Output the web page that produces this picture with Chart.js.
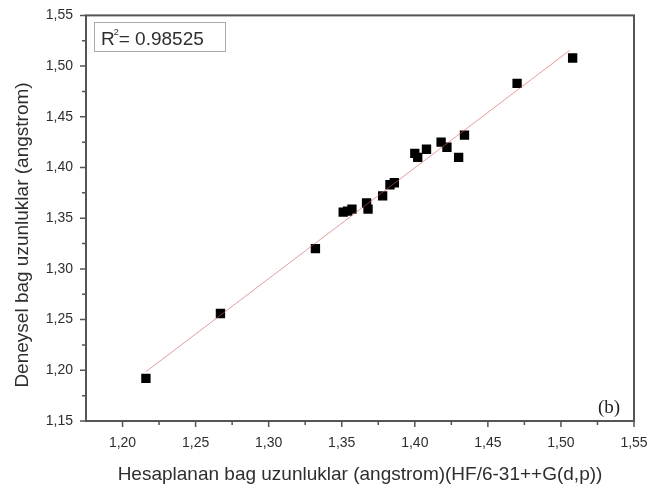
<!DOCTYPE html>
<html>
<head>
<meta charset="utf-8">
<script src="https://cdn.jsdelivr.net/npm/chart.js@4.4.1/dist/chart.umd.min.js"></script>
<style>
  html, body { margin: 0; padding: 0; background: #fff; }
  #wrap { width: 665px; height: 486px; }
</style>
</head>
<body>
<div id="wrap"><canvas id="canvas1"></canvas></div>
<script>
// hesaplanan (x) ve deneysel (y) bag uzunluklari
const calcLengths = [1.216, 1.267, 1.332, 1.351, 1.354, 1.357, 1.367, 1.368, 1.378, 1.383, 1.386,
  1.400, 1.402, 1.408, 1.418, 1.422, 1.430, 1.434, 1.470, 1.508];
const expLengths = [1.192, 1.256, 1.320, 1.356, 1.357, 1.359, 1.365, 1.359, 1.372, 1.383, 1.385,
  1.414, 1.410, 1.418, 1.425, 1.420, 1.410, 1.432, 1.483, 1.508];
// lineer fit cizgisinin uclari
const fitX = [1.216, 1.506];
const fitY = [1.1986, 1.5155];
const xTicks = [1.20, 1.25, 1.30, 1.35, 1.40, 1.45, 1.50, 1.55];
const yTicks = [1.15, 1.20, 1.25, 1.30, 1.35, 1.40, 1.45, 1.50, 1.55];
const rSquared = '0.98525';
const yTitle = 'Deneysel bag uzunluklar (angstrom)';

const FONT = '"Liberation Sans", Arial, sans-serif';
const AXIS_COLOR = '#555';
const TEXT_COLOR = '#2e2e2e';
const fmt = v => v.toFixed(2).replace('.', ',');

// kucuk tick'ler, ust/sag cerceve, y basligi, R2 kutusu ve (b) etiketi
const decorPlugin = {
  id: 'decor',
  afterDraw(chart) {
    const { ctx, chartArea: a, scales } = chart;
    ctx.save();
    ctx.strokeStyle = AXIS_COLOR;
    ctx.lineWidth = 2;
    ctx.strokeRect(a.left, a.top, a.right - a.left, a.bottom - a.top);

    ctx.lineWidth = 1.5;
    ctx.beginPath();
    xTicks.forEach(v => {
      const px = scales.x.getPixelForValue(v);
      ctx.moveTo(px, a.bottom); ctx.lineTo(px, a.bottom + 6);
      const m = scales.x.getPixelForValue(v - 0.025);
      if (m > a.left) { ctx.moveTo(m, a.bottom); ctx.lineTo(m, a.bottom + 4); }
    });
    yTicks.forEach(v => {
      const py = scales.y.getPixelForValue(v);
      ctx.moveTo(a.left, py); ctx.lineTo(a.left - 6, py);
      if (v < 1.55) {
        const m = scales.y.getPixelForValue(v + 0.025);
        ctx.moveTo(a.left, m); ctx.lineTo(a.left - 4, m);
      }
    });
    ctx.stroke();

    // y ekseni basligi (biraz asagida ortalanmis)
    ctx.fillStyle = TEXT_COLOR;
    ctx.font = '19px ' + FONT;
    ctx.textAlign = 'center';
    ctx.textBaseline = 'middle';
    ctx.translate(23, 235);
    ctx.rotate(-Math.PI / 2);
    ctx.fillText(yTitle, 0, 0);
    ctx.setTransform(1, 0, 0, 1, 0, 0);

    // R2 kutusu
    ctx.textAlign = 'left';
    ctx.textBaseline = 'alphabetic';
    ctx.lineWidth = 1;
    ctx.strokeStyle = '#aaa';
    ctx.strokeRect(94.5, 22.5, 131, 29);
    ctx.font = '19px ' + FONT;
    ctx.fillText('R', 101, 45);
    const rw = ctx.measureText('R').width;
    ctx.font = '9px ' + FONT;
    ctx.fillText('2', 101 + rw - 1, 35);
    ctx.font = '19px ' + FONT;
    ctx.fillText('= ' + rSquared, 101 + rw + 4, 45);

    ctx.font = '19px "Liberation Serif", "Times New Roman", serif';
    ctx.fillStyle = '#222';
    ctx.fillText('(b)', 598, 413);
    ctx.restore();
  }
};

const data = {
  datasets: [
    {
      type: 'line',
      label: 'fit',
      data: fitX.map((x, i) => ({ x: x, y: fitY[i] })),
      borderColor: 'rgba(215, 90, 90, 0.6)',
      borderWidth: 1,
      pointRadius: 0,
      fill: false
    },
    {
      type: 'scatter',
      label: 'bag uzunluklari',
      data: calcLengths.map((x, i) => ({ x: x, y: expLengths[i] })),
      pointStyle: 'rect',
      pointRadius: 6.6,
      pointBackgroundColor: '#000',
      pointBorderColor: '#000',
      pointBorderWidth: 0
    }
  ]
};

const canvas = document.getElementById('canvas1');
const ctx = canvas.getContext('2d');

const chart = new Chart(ctx, {
  type: 'scatter',
  data: data,
  plugins: [decorPlugin],
  options: {
    responsive: true,
    maintainAspectRatio: false,
    animation: false,
    layout: { padding: { top: 15, right: 31, left: 0, bottom: 0 } },
    plugins: { legend: { display: false }, tooltip: { enabled: false } },
    scales: {
      x: {
        type: 'linear',
        min: 1.175,
        max: 1.55,
        afterBuildTicks: s => { s.ticks = xTicks.map(v => ({ value: v })); },
        afterFit: s => { s.height = 65; },
        grid: { display: false, tickLength: 6 },
        border: { display: false },
        ticks: {
          padding: 8,
          color: TEXT_COLOR,
          font: { family: FONT, size: 14 },
          maxRotation: 0,
          callback: v => fmt(v)
        },
        title: {
          display: true,
          text: 'Hesaplanan bag uzunluklar (angstrom)(HF/6-31++G(d,p))',
          color: TEXT_COLOR,
          font: { family: FONT, size: 19 },
          padding: { top: 4, bottom: 0 }
        }
      },
      y: {
        type: 'linear',
        min: 1.15,
        max: 1.55,
        afterBuildTicks: s => { s.ticks = yTicks.map(v => ({ value: v })); },
        afterFit: s => { s.width = 86; },
        grid: { display: false, tickLength: 6 },
        border: { display: false },
        ticks: {
          padding: 7,
          color: TEXT_COLOR,
          font: { family: FONT, size: 14 },
          callback: v => fmt(v)
        },
        title: { display: false }
      }
    }
  }
});
</script>
</body>
</html>
